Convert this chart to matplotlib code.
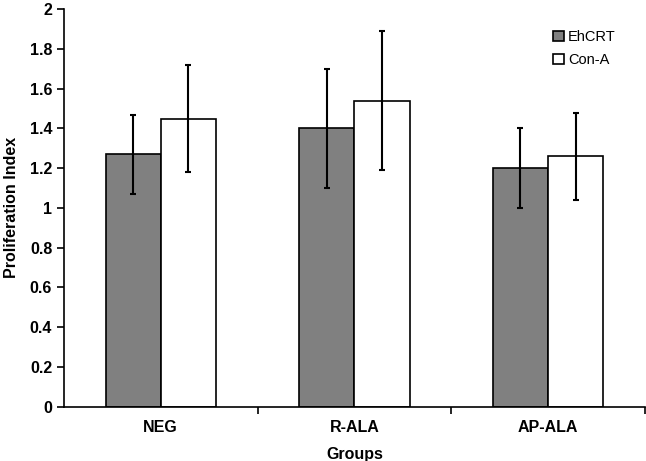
import numpy as np
import matplotlib
matplotlib.use("Agg")
import matplotlib.pyplot as plt

groups = ["NEG", "R-ALA", "AP-ALA"]
ehcrt = [1.27, 1.40, 1.20]
ehcrt_err = [0.20, 0.30, 0.20]
cona = [1.45, 1.54, 1.26]
cona_err = [0.27, 0.35, 0.22]

plt.rcParams['font.family'] = ['Liberation Sans', 'DejaVu Sans']

fig = plt.figure(figsize=(6.46, 4.61), dpi=100)
ax = fig.add_axes([0.099, 0.118, 0.899, 0.862])

x = np.arange(len(groups))
w = 0.285
ekw = dict(ecolor='black', elinewidth=1.5, capsize=2.5, capthick=1.5)
ax.bar(x - w/2, ehcrt, w, color='#808080', edgecolor='black', linewidth=1.2,
       yerr=ehcrt_err, error_kw=ekw, label='EhCRT', zorder=2)
ax.bar(x + w/2, cona, w, color='white', edgecolor='black', linewidth=1.2,
       yerr=cona_err, error_kw=ekw, label='Con-A', zorder=2)

ax.set_xlim(-0.5, len(groups) - 0.5)
ax.set_ylim(0, 2)
yt = np.round(np.arange(0, 2.01, 0.2), 1)
ax.set_yticks(yt)
ax.set_yticklabels(['%g' % v for v in yt], fontsize=11.5, fontweight='bold')
ax.set_xticks(x)
ax.set_xticklabels(groups, fontsize=11.5, fontweight='bold')
ax.tick_params(axis='x', length=0, pad=10)
ax.set_xticks(np.arange(0.5, len(groups) - 0.4, 1), minor=True)
ax.tick_params(axis='x', which='minor', length=5, width=1.2)
ax.tick_params(axis='y', length=5, width=1.2)

for s in ['top', 'right']:
    ax.spines[s].set_visible(False)
ax.spines['left'].set_linewidth(1.2)
ax.spines['bottom'].set_linewidth(1.2)

ax.set_xlabel('Groups', fontsize=11.5, fontweight='bold', labelpad=8)
ax.set_ylabel('Proliferation Index', fontsize=11.5, fontweight='bold', labelpad=8)

ax.legend(loc='upper left', bbox_to_anchor=(0.82, 0.98), frameon=False,
          fontsize=10.5, handlelength=0.7, handleheight=0.7, handletextpad=0.3,
          labelspacing=0.6)

fig.savefig('out.png', dpi=100)
